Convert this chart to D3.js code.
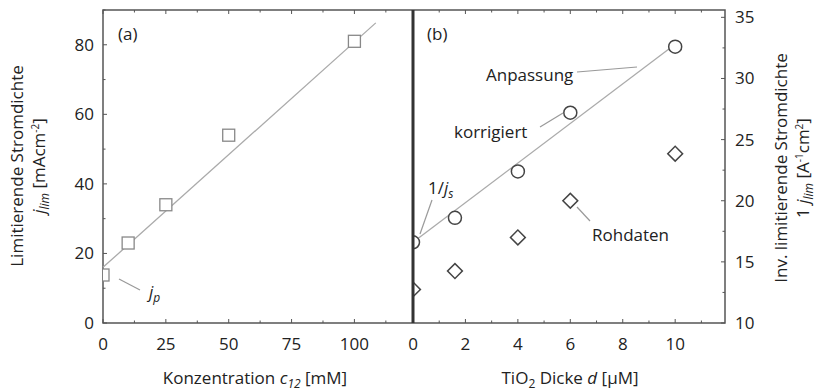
<!DOCTYPE html>
<html>
<head>
<meta charset="utf-8">
<script src="https://cdn.jsdelivr.net/npm/d3@7"></script>
<style>
  body { margin: 0; background: #fff; }
  text { font-family: "Open Sans", sans-serif; fill: #222; }
</style>
</head>
<body>
<script>
// panel (a): concentration vs limiting current density
var concA = [0, 10, 25, 50, 100];
var jlimA = [13.8, 23, 34, 54, 81];
var fitA = [[0, 16], [108.5, 86.3]];
var ticksXA = [0, 25, 50, 75, 100];
var ticksYA = [0, 20, 40, 60, 80];

// panel (b): TiO2 thickness vs inverse current density
var dickeB = [0, 1.6, 4, 6, 10];
var korrigiert = [16.6, 18.6, 22.4, 27.2, 32.6];
var rohdaten = [12.75, 14.25, 17.0, 20.0, 23.85];
var fitB = [[0, 16.6], [10, 32.8]];
var ticksXB = [0, 2, 4, 6, 8, 10];
var ticksYB = [10, 15, 20, 25, 30, 35];

var W = 823, H = 392;
var plotTop = 10, plotBottom = 323;
var ax0 = 103, ax1 = 413, bx1 = 725;
var axisColor = "#555";
var fs = 17;

var svg = d3.select("body").append("svg")
    .attr("width", W)
    .attr("height", H);

var xA = d3.scaleLinear().domain([0, 123.3]).range([ax0, ax1]);
var yA = d3.scaleLinear().domain([0, 90]).range([plotBottom, plotTop]);
var xB = d3.scaleLinear().domain([0, 11.9]).range([ax1, bx1]);
var yB = d3.scaleLinear().domain([10, 35.6]).range([plotBottom, plotTop]);

// clip areas so markers on the axes show only their inner half
var defs = svg.append("defs");
defs.append("clipPath").attr("id", "clipA").append("rect")
    .attr("x", ax0).attr("y", 0).attr("width", ax1 - ax0).attr("height", H);
defs.append("clipPath").attr("id", "clipB").append("rect")
    .attr("x", ax1).attr("y", 0).attr("width", bx1 - ax1).attr("height", H);

// frame
svg.append("rect")
    .attr("x", ax0).attr("y", plotTop)
    .attr("width", bx1 - ax0).attr("height", plotBottom - plotTop)
    .attr("fill", "none").attr("stroke", axisColor).attr("stroke-width", 1.5);

// inward ticks, major + minor
function addTicks(g, scale, values, minorStep, side, orient) {
  var lo = scale.domain()[0], hi = scale.domain()[1];
  var minors = d3.range(lo, hi + 1e-9, minorStep);
  minors.forEach(function(v) {
    var major = values.indexOf(+v.toFixed(4)) >= 0;
    var len = major ? 4 : 2.5;
    var p = scale(v);
    if (orient == "x") {
      g.append("line").attr("x1", p).attr("x2", p)
        .attr("y1", plotBottom).attr("y2", plotBottom - len)
        .attr("stroke", axisColor);
      g.append("line").attr("x1", p).attr("x2", p)
        .attr("y1", plotTop).attr("y2", plotTop + len)
        .attr("stroke", axisColor);
    } else {
      g.append("line").attr("y1", p).attr("y2", p)
        .attr("x1", side).attr("x2", side + (side == bx1 ? -len : len))
        .attr("stroke", axisColor);
    }
  });
}

var axes = svg.append("g");
addTicks(axes, xA, ticksXA, 12.5, null, "x");
addTicks(axes, xB, ticksXB, 1, null, "x");
addTicks(axes, yA, ticksYA, 10, ax0, "y");
addTicks(axes, yB, ticksYB, 2.5, bx1, "y");

// tick labels
axes.selectAll(".txa").data(ticksXA).enter().append("text")
    .attr("x", function(d){ return xA(d); }).attr("y", plotBottom + 27)
    .attr("text-anchor", "middle").attr("font-size", fs).text(function(d){ return d; });
axes.selectAll(".txb").data(ticksXB).enter().append("text")
    .attr("x", function(d){ return xB(d); }).attr("y", plotBottom + 27)
    .attr("text-anchor", "middle").attr("font-size", fs).text(function(d){ return d; });
axes.selectAll(".tya").data(ticksYA).enter().append("text")
    .attr("x", ax0 - 9).attr("y", function(d){ return yA(d) + 6; })
    .attr("text-anchor", "end").attr("font-size", fs).text(function(d){ return d; });
axes.selectAll(".tyb").data(ticksYB).enter().append("text")
    .attr("x", bx1 + 10).attr("y", function(d){ return yB(d) + 6; })
    .attr("text-anchor", "start").attr("font-size", fs).text(function(d){ return d; });

// fit lines
var lineA = d3.line().x(function(d){ return xA(d[0]); }).y(function(d){ return yA(d[1]); });
var lineB = d3.line().x(function(d){ return xB(d[0]); }).y(function(d){ return yB(d[1]); });
svg.append("path").attr("d", lineA(fitA)).attr("stroke", "#aaa").attr("stroke-width", 1.3).attr("fill", "none");
svg.append("path").attr("d", lineB(fitB)).attr("stroke", "#aaa").attr("stroke-width", 1.3).attr("fill", "none");

// markers a: squares
svg.append("g").attr("clip-path", "url(#clipA)")
  .selectAll(".sq").data(concA).enter().append("rect")
    .attr("x", function(d){ return xA(d) - 6; })
    .attr("y", function(d, i){ return yA(jlimA[i]) - 6; })
    .attr("width", 12).attr("height", 12)
    .attr("fill", "#fff").attr("stroke", "#888").attr("stroke-width", 1.3);

// markers b: circles and diamonds
var gB = svg.append("g").attr("clip-path", "url(#clipB)");
gB.selectAll(".ci").data(dickeB).enter().append("circle")
    .attr("cx", function(d){ return xB(d); })
    .attr("cy", function(d, i){ return yB(korrigiert[i]); })
    .attr("r", 6.5)
    .attr("fill", "#fff").attr("stroke", "#444").attr("stroke-width", 1.5);
gB.selectAll(".di").data(dickeB).enter().append("path")
    .attr("d", d3.symbol().type(d3.symbolSquare).size(110))
    .attr("transform", function(d, i){ return "translate(" + xB(d) + "," + yB(rohdaten[i]) + ") rotate(45)"; })
    .attr("fill", "#fff").attr("stroke", "#444").attr("stroke-width", 1.5);

// divider between panels
svg.append("line")
    .attr("x1", ax1).attr("x2", ax1).attr("y1", plotTop).attr("y2", plotBottom)
    .attr("stroke", "#333").attr("stroke-width", 3);

// panel labels
svg.append("text").attr("x", 118).attr("y", 40).attr("font-size", fs).text("(a)");
svg.append("text").attr("x", 427).attr("y", 40).attr("font-size", fs).text("(b)");

// annotations
var leader = function(x1, y1, x2, y2) {
  svg.append("line").attr("x1", x1).attr("y1", y1).attr("x2", x2).attr("y2", y2)
      .attr("stroke", "#999").attr("stroke-width", 1.2);
};
leader(119, 279, 140, 290);
var jp = svg.append("text").attr("x", 149).attr("y", 298).attr("font-size", fs);
jp.append("tspan").attr("font-style", "italic").text("j");
jp.append("tspan").attr("font-style", "italic").attr("font-size", 12).attr("dy", 4).text("p");

leader(577, 72, 637, 67);
svg.append("text").attr("x", 486).attr("y", 81).attr("font-size", fs).text("Anpassung");
leader(540, 127, 563, 113);
svg.append("text").attr("x", 454).attr("y", 138).attr("font-size", fs).text("korrigiert");
leader(432, 200, 420, 234);
var js = svg.append("text").attr("x", 428).attr("y", 194).attr("font-size", fs);
js.append("tspan").text("1/");
js.append("tspan").attr("font-style", "italic").text("j");
js.append("tspan").attr("font-style", "italic").attr("font-size", 12).attr("dy", 4).text("s");
leader(577, 207, 590, 221);
svg.append("text").attr("x", 592).attr("y", 241).attr("font-size", fs).text("Rohdaten");

// axis titles
var tA = svg.append("text").attr("x", 255).attr("y", 384).attr("text-anchor", "middle").attr("font-size", fs);
tA.append("tspan").text("Konzentration ");
tA.append("tspan").attr("font-style", "italic").text("c");
tA.append("tspan").attr("font-style", "italic").attr("font-size", 12).attr("dy", 4).text("12");
tA.append("tspan").attr("dy", -4).text(" [mM]");

var tB = svg.append("text").attr("x", 570).attr("y", 384).attr("text-anchor", "middle").attr("font-size", fs);
tB.append("tspan").text("TiO");
tB.append("tspan").attr("font-size", 12).attr("dy", 4).text("2");
tB.append("tspan").attr("dy", -4).text(" Dicke ");
tB.append("tspan").attr("font-style", "italic").text("d");
tB.append("tspan").text(" [\u03bcM]");

var yl = svg.append("g").attr("transform", "translate(23,166) rotate(-90)");
yl.append("text").attr("text-anchor", "middle").attr("font-size", fs).text("Limitierende Stromdichte");
var yl2 = yl.append("text").attr("y", 22).attr("text-anchor", "middle").attr("font-size", fs);
yl2.append("tspan").attr("font-style", "italic").text("j");
yl2.append("tspan").attr("font-style", "italic").attr("font-size", 12).attr("dy", 4).text("lim");
yl2.append("tspan").attr("dy", -4).text(" [mAcm");
yl2.append("tspan").attr("font-size", 10).attr("dy", -6).text("-2");
yl2.append("tspan").attr("dy", 6).text("]");

var yr = svg.append("g").attr("transform", "translate(787,168) rotate(-90)");
yr.append("text").attr("text-anchor", "middle").attr("font-size", fs).text("Inv. limitierende Stromdichte");
var yr2 = yr.append("text").attr("y", 22).attr("text-anchor", "middle").attr("font-size", fs);
yr2.append("tspan").text("1 ");
yr2.append("tspan").attr("font-style", "italic").text("j");
yr2.append("tspan").attr("font-style", "italic").attr("font-size", 12).attr("dy", 4).text("lim");
yr2.append("tspan").attr("dy", -4).text(" [A");
yr2.append("tspan").attr("font-size", 10).attr("dy", -6).text("-1");
yr2.append("tspan").attr("dy", 6).text("cm");
yr2.append("tspan").attr("font-size", 10).attr("dy", -6).text("2");
yr2.append("tspan").attr("dy", 6).text("]");
</script>
</body>
</html>
